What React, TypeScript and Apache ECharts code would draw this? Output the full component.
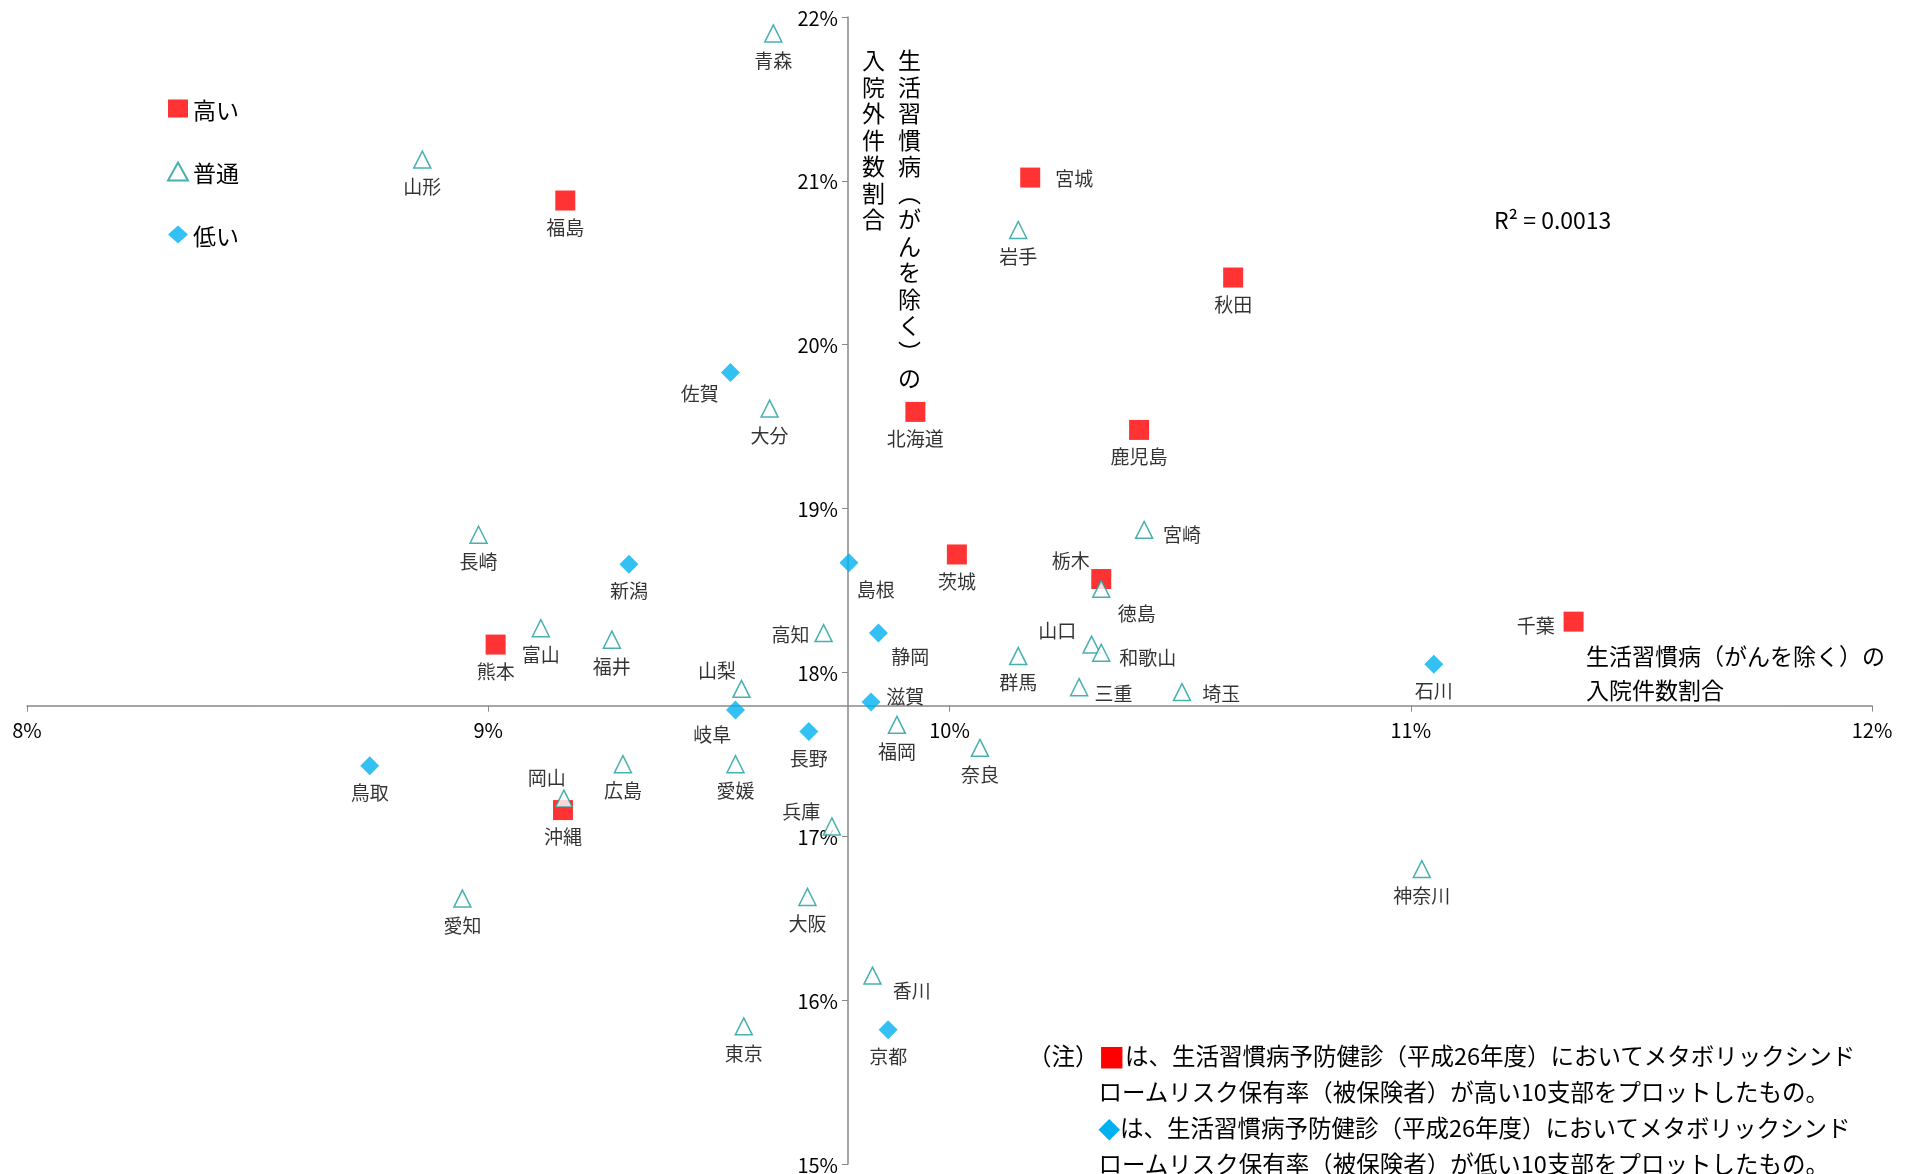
import { useEffect, useRef } from "react";
import * as echarts from "echarts";

const S = 1909 / 1560;
const FONT = "'Noto Sans CJK JP', 'Noto Sans', sans-serif";

const HIGH_NAMES = ["福島", "宮城", "秋田", "北海道", "鹿児島", "茨城", "栃木", "千葉", "熊本", "沖縄"];
const HIGH_X = [9.167, 10.175, 10.615, 9.926, 10.411, 10.016, 10.329, 11.353, 9.016, 9.162];
const HIGH_Y = [20.88, 21.02, 20.41, 19.59, 19.48, 18.72, 18.57, 18.31, 18.17, 17.16];

const LOW_NAMES = ["佐賀", "新潟", "島根", "静岡", "石川", "滋賀", "岐阜", "長野", "鳥取", "京都"];
const LOW_X = [9.525, 9.305, 9.782, 9.846, 11.05, 9.83, 9.536, 9.695, 8.743, 9.867];
const LOW_Y = [19.83, 18.66, 18.67, 18.24, 18.05, 17.82, 17.77, 17.64, 17.43, 15.82];

const MID_NAMES = ["青森", "山形", "岩手", "大分", "長崎", "宮崎", "徳島", "高知", "富山", "福井", "山口", "和歌山", "群馬", "三重", "埼玉", "山梨", "福岡", "奈良", "広島", "愛媛", "岡山", "兵庫", "愛知", "大阪", "神奈川", "香川", "東京"];
const MID_X = [9.618, 8.857, 10.149, 9.61, 8.979, 10.422, 10.329, 9.727, 9.114, 9.268, 10.308, 10.329, 10.149, 10.281, 10.504, 9.549, 9.886, 10.066, 9.292, 9.536, 9.164, 9.745, 8.944, 9.692, 11.024, 9.833, 9.554];
const MID_Y = [21.9, 21.13, 20.7, 19.61, 18.84, 18.87, 18.51, 18.24, 18.27, 18.2, 18.17, 18.12, 18.1, 17.91, 17.88, 17.9, 17.68, 17.54, 17.44, 17.44, 17.23, 17.06, 16.62, 16.63, 16.8, 16.15, 15.84];

// label offsets (reference px) where not directly below the mark
const LABEL_OFF: Record<string, [number, number]> = {
  宮城: [36, 0], 宮崎: [31, 3], 徳島: [29, 19], 和歌山: [38, 3], 三重: [28, 4], 埼玉: [32, 0],
  香川: [32, 11], 滋賀: [28, -5], 静岡: [26, 18], 島根: [22, 21], 佐賀: [-25, 16], 千葉: [-31, 2],
  岐阜: [-19, 19], 高知: [-27, 0], 山梨: [-20, -16], 岡山: [-14, -18], 兵庫: [-25, -13],
  山口: [-28, -12], 栃木: [-25, -16],
};

const X_CROSS = 9.78;
const Y_CROSS = 17.79;

const pts = (names: string[], xs: number[], ys: number[]) =>
  names.map((n, i) => {
    const o = LABEL_OFF[n] ?? [0, 21];
    return { name: n, value: [xs[i], ys[i]], label: { offset: [o[0] * S, o[1] * S] } };
  });

const vert = (s: string) => s.split("").join("\n");

export default function App() {
  const ref = useRef<HTMLDivElement>(null);
  useEffect(() => {
    if (!ref.current) return;
    const chart = echarts.init(ref.current, null, { renderer: "svg" });
    const left = 27, right = 37, top = 17, bottom = 7;
    const gw = 1909 - left - right, gh = 1174 - top - bottom;
    const xPix = left + ((X_CROSS - 8) / 4) * gw;
    const yPix = top + ((22 - Y_CROSS) / 7) * gh;
    const label = {
      show: true, position: "inside", formatter: "{b}", color: "#000",
      fontSize: 19, fontFamily: FONT, align: "center", verticalAlign: "middle",
    };
    chart.setOption({
      animation: false,
      textStyle: { fontFamily: FONT },
      grid: { left, right, top, bottom },
      xAxis: {
        type: "value", min: 8, max: 12, interval: 1,
        offset: yPix - (top + gh),
        axisLine: { lineStyle: { color: "#888", width: 1.5 } },
        axisTick: { show: true, length: 6, lineStyle: { color: "#888" } },
        axisLabel: { color: "#000", fontSize: 20, formatter: (v: number) => v + "%", margin: 14 },
        splitLine: { show: false },
      },
      yAxis: {
        type: "value", min: 15, max: 22, interval: 1,
        offset: left - xPix,
        axisLine: { show: true, lineStyle: { color: "#888", width: 1.5 } },
        axisTick: { show: true, length: 6, lineStyle: { color: "#888" } },
        axisLabel: { color: "#000", fontSize: 20, formatter: (v: number) => v + "%", margin: 10 },
        splitLine: { show: false },
      },
      legend: {
        orient: "vertical", left: 162, top: 92, itemGap: 40, itemWidth: 20, itemHeight: 18,
        textStyle: { fontSize: 23, color: "#000", fontFamily: FONT },
        data: ["高い", "普通", "低い"],
      },
      series: [
        {
          name: "高い", type: "scatter", symbol: "rect", symbolSize: 20,
          itemStyle: { color: "#FF0000" }, label, data: pts(HIGH_NAMES, HIGH_X, HIGH_Y),
        },
        {
          name: "普通", type: "scatter", symbol: "triangle", symbolSize: 17,
          itemStyle: { color: "#fff", borderColor: "#1C9C9C", borderWidth: 1.5 }, label,
          data: pts(MID_NAMES, MID_X, MID_Y),
        },
        {
          name: "低い", type: "scatter", symbol: "diamond", symbolSize: 19,
          itemStyle: { color: "#00B0F0" }, label, data: pts(LOW_NAMES, LOW_X, LOW_Y),
        },
      ],
      graphic: [
        { type: "text", left: 898, top: 46, style: { text: vert("生活習慣病︵がんを除く︶の"), font: `23px ${FONT}`, fill: "#000", lineHeight: 26.5 } },
        { type: "text", left: 862, top: 46, style: { text: vert("入院外件数割合"), font: `23px ${FONT}`, fill: "#000", lineHeight: 26.5 } },
        { type: "text", left: 1586, top: 638, style: { text: "生活習慣病（がんを除く）の\n入院件数割合", font: `23px ${FONT}`, fill: "#000", lineHeight: 34 } },
        { type: "text", left: 1494, top: 207, style: { text: "R² = 0.0013", font: `23px ${FONT}`, fill: "#000" } },
        {
          type: "text", left: 1028, top: 1037,
          style: {
            text: "（注）{r|■}は、生活習慣病予防健診（平成26年度）においてメタボリックシンド\n　　　ロームリスク保有率（被保険者）が高い10支部をプロットしたもの。\n　　　{b|◆}は、生活習慣病予防健診（平成26年度）においてメタボリックシンド\n　　　ロームリスク保有率（被保険者）が低い10支部をプロットしたもの。",
            font: `23.5px ${FONT}`, fill: "#000", lineHeight: 36,
            rich: {
              r: { fill: "#FF0000", fontSize: 28, fontFamily: "DejaVu Sans" },
              b: { fill: "#00B0F0", fontSize: 28, fontFamily: "DejaVu Sans" },
            },
          },
        },
      ],
    });
    return () => chart.dispose();
  }, []);
  return <div ref={ref} style={{ position: "fixed", left: 0, top: 0, width: 1909, height: 1174 }} />;
}
